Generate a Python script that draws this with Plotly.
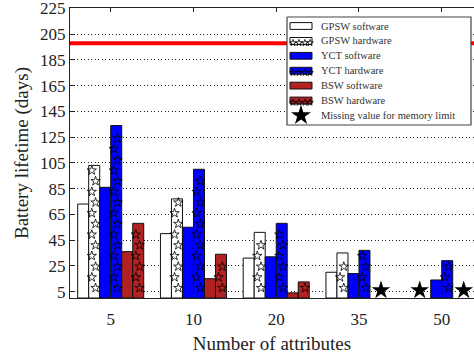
import plotly.graph_objects as go

# ---- data ----
categories = ["5", "10", "20", "35", "50"]
series_names = ["GPSW software", "GPSW hardware", "YCT software",
                "YCT hardware", "BSW software", "BSW hardware"]
gpsw_software = [73, 50, 31, 20, None]
gpsw_hardware = [103, 77, 51, 35, None]
yct_software = [86, 55, 32, 19, 14]
yct_hardware = [134, 100, 58, 37, 29]
bsw_software = [36, 15, 4, None, None]
bsw_hardware = [58, 34, 12.5, None, None]
# missing values (category index, algorithm pair index 0=GPSW,1=YCT,2=BSW)
missing_cat = [3, 4, 4]
missing_pair = [2, 0, 2]
missing_level = 6
missing_label = "Missing value for memory limit"
target_lifetime = 198
y_ticks = list(range(5, 226, 20))

series_values = [gpsw_software, gpsw_hardware, yct_software,
                 yct_hardware, bsw_software, bsw_hardware]
series_colors = ["#ffffff", "#ffffff", "#0000ff", "#0000ff", "#b22222", "#b22222"]
hatched = [False, True, False, True, False, True]

W = 0.133
FONT = "Liberation Serif"
EDGE = "#111"
fig = go.Figure()
xs = list(range(len(categories)))

for k, (name, vals, col, h) in enumerate(zip(series_names, series_values, series_colors, hatched)):
    off = -3 * W + k * W
    fig.add_trace(go.Bar(
        x=xs, y=vals, width=W, offset=off, name=name, showlegend=False,
        marker=dict(color=col, line=dict(color=EDGE, width=1)),
    ))
    if h:
        sx, sy = [], []
        for i, v in enumerate(vals):
            if v is None:
                continue
            r = 0
            while True:
                yy = 7.8 + r * 8.3
                if yy + 2.5 > v:
                    break
                cx = i + off + W / 2 + (0.12 * W if r % 2 == 0 else -0.22 * W)
                sx.append(cx)
                sy.append(yy)
                r += 1
        fig.add_trace(go.Scatter(
            x=sx, y=sy, mode="markers", showlegend=False, hoverinfo="skip",
            marker=dict(symbol="star-open", size=7, color="#000",
                        line=dict(width=0.8, color="#000")),
        ))

# missing value stars
mx = [c + (p - 1) * 2 * W for c, p in zip(missing_cat, missing_pair)]
my = [missing_level] * len(mx)
fig.add_trace(go.Scatter(
    x=mx, y=my, mode="markers", name=missing_label, showlegend=False,
    marker=dict(symbol="star", size=14, color="#000"),
))

fig.add_shape(type="line", xref="paper", x0=0, x1=1, yref="y",
              y0=target_lifetime, y1=target_lifetime,
              line=dict(color="#ff0000", width=4), layer="below")

# ---- custom legend on a pixel-coordinate overlay axis ----
LX0, LX1, LY0, LY1 = 287, 471, 17, 125
ROW0, ROWSTEP = 26, 14.9
IX0, IX1, IH = 290, 312, 3.4
TX = 319


def rect(x0, x1, y0, y1):
    return [x0, x1, x1, x0, x0], [y0, y0, y1, y1, y0]


bx, by = rect(LX0, LX1, LY0, LY1)
fig.add_trace(go.Scatter(x=bx, y=by, xaxis="x2", yaxis="y2", mode="lines",
                         fill="toself", fillcolor="white",
                         line=dict(color="#444", width=1.2),
                         showlegend=False, hoverinfo="skip"))
legend_labels = series_names + [missing_label]
for k, lab in enumerate(legend_labels):
    yc = ROW0 + k * ROWSTEP
    if k < len(series_names):
        rx, ry = rect(IX0, IX1, yc - IH, yc + IH)
        fig.add_trace(go.Scatter(x=rx, y=ry, xaxis="x2", yaxis="y2", mode="lines",
                                 fill="toself", fillcolor=series_colors[k],
                                 line=dict(color=EDGE, width=1),
                                 showlegend=False, hoverinfo="skip"))
        if hatched[k]:
            fig.add_trace(go.Scatter(
                x=[IX0 + 3, IX0 + 9, IX0 + 15, IX0 + 20], y=[yc + 2] * 4,
                xaxis="x2", yaxis="y2", mode="markers",
                marker=dict(symbol="star-open", size=5, color="#000",
                            line=dict(width=0.8, color="#000")),
                showlegend=False, hoverinfo="skip"))
    else:
        fig.add_trace(go.Scatter(x=[(IX0 + IX1) / 2], y=[yc], xaxis="x2", yaxis="y2",
                                 mode="markers",
                                 marker=dict(symbol="star", size=15, color="#000"),
                                 showlegend=False, hoverinfo="skip"))
    fig.add_annotation(x=TX, y=yc, xref="x2", yref="y2", text=lab,
                       showarrow=False, xanchor="left", yanchor="middle",
                       font=dict(family=FONT, size=10.5, color="#333"))

fig.update_layout(
    width=474, height=359,
    margin=dict(l=70, r=0, t=8, b=61),
    plot_bgcolor="white", paper_bgcolor="white",
    barmode="overlay",
    font=dict(family=FONT, color="#222"),
    showlegend=False,
    xaxis=dict(range=[-0.492, 4.39], tickmode="array", tickvals=xs,
               ticktext=categories, showline=True, linecolor="#222",
               linewidth=1, mirror="ticks", ticks="inside", ticklen=4,
               tickcolor="#222", showgrid=False, zeroline=False,
               tickfont=dict(size=17), ticklabelstandoff=6,
               title=dict(text="Number of attributes", font=dict(size=19),
                          standoff=8)),
    yaxis=dict(range=[0, 225.3], tickmode="array", tickvals=y_ticks,
               showline=True, linecolor="#222", linewidth=1,
               ticks="inside", ticklen=4, tickcolor="#222",
               showgrid=True, gridcolor="#222", griddash="1px,2.5px", gridwidth=1,
               zeroline=False, tickfont=dict(size=17), ticklabeloverflow="allow",
               title=dict(text="Battery lifetime (days)", font=dict(size=19),
                          standoff=6)),
    xaxis2=dict(overlaying="x", range=[70, 474], visible=False),
    yaxis2=dict(overlaying="y", range=[298, 8], visible=False),
)

fig.write_html("out.html")
